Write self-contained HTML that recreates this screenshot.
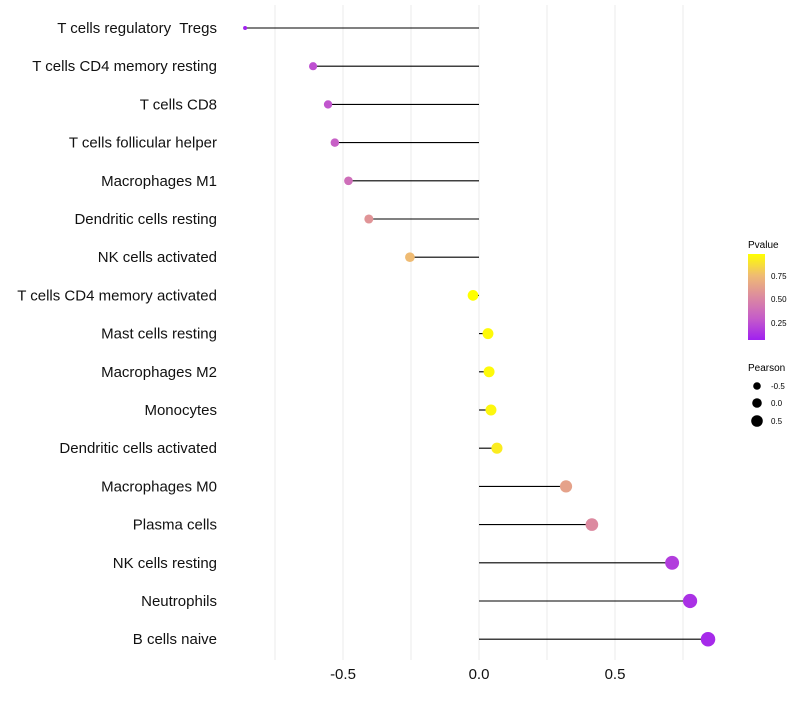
<!DOCTYPE html>
<html><head><meta charset="utf-8"><style>
body{margin:0;background:#fff;font-family:"Liberation Sans",sans-serif}
text{white-space:pre}
</style></head><body>
<svg id="chart" width="800" height="700" xmlns="http://www.w3.org/2000/svg">
<defs><linearGradient id="pg" x1="0" y1="1" x2="0" y2="0">
<stop offset="0" stop-color="#a020f0"/><stop offset="0.25" stop-color="#c55cc9"/><stop offset="0.5" stop-color="#dc8aa0"/><stop offset="0.75" stop-color="#efbb73"/><stop offset="1" stop-color="#ffff00"/></linearGradient></defs>
<g id="grid"></g>
<g id="marks"></g>
<g id="labels"></g>
<g id="xticks"></g>
<g>
<text x="748" y="248" font-size="10">Pvalue</text>
<rect x="748" y="254" width="17" height="86" fill="url(#pg)"/>
<text x="771" y="279" font-size="8">0.75</text>
<text x="771" y="302" font-size="8">0.50</text>
<text x="771" y="326" font-size="8">0.25</text>
</g>
<g>
<text x="748" y="371" font-size="10">Pearson</text>
<circle cx="757" cy="386" r="3.8" fill="#000"/><text x="771" y="389" font-size="8">-0.5</text>
<circle cx="757" cy="403" r="4.8" fill="#000"/><text x="771" y="406" font-size="8">0.0</text>
<circle cx="757" cy="421" r="5.8" fill="#000"/><text x="771" y="424" font-size="8">0.5</text>
</g>
</svg>
<script>
const categories=["T cells regulatory  Tregs","T cells CD4 memory resting","T cells CD8","T cells follicular helper","Macrophages M1","Dendritic cells resting","NK cells activated","T cells CD4 memory activated","Mast cells resting","Macrophages M2","Monocytes","Dendritic cells activated","Macrophages M0","Plasma cells","NK cells resting","Neutrophils","B cells naive"];
const pearson=[-0.86,-0.61,-0.555,-0.53,-0.48,-0.405,-0.254,-0.022,0.033,0.037,0.044,0.066,0.32,0.415,0.71,0.776,0.842];
const pvalue=[0.01,0.2,0.22,0.27,0.35,0.55,0.75,1.0,0.98,0.98,0.97,0.93,0.62,0.5,0.12,0.07,0.04];
const xTicks=[-0.5,0,0.5];
const xTickLabels=["-0.5","0.0","0.5"];
const gridVals=[-0.75,-0.5,-0.25,0,0.25,0.5,0.75];
const NS="http://www.w3.org/2000/svg";
const xs=v=>479+v*272;
const ys=i=>28+i*38.2;
const rs=v=>v<-0.8?2:Math.max(2,5.4+2.2*v);
const stops=[[0,[160,32,240]],[0.25,[197,92,201]],[0.5,[220,138,160]],[0.75,[239,187,115]],[1,[255,255,0]]];
function col(p){for(let i=1;i<stops.length;i++){if(p<=stops[i][0]){const a=stops[i-1],b=stops[i],t=(p-a[0])/(b[0]-a[0]);return "rgb("+a[1].map((c,k)=>Math.round(c+(b[1][k]-c)*t)).join(",")+")";}}return "rgb(255,255,0)";}
function mk(t,a,p){const e=document.createElementNS(NS,t);for(const k in a)e.setAttribute(k,a[k]);p.appendChild(e);return e;}
const grid=document.getElementById('grid'),marks=document.getElementById('marks'),labels=document.getElementById('labels'),xt=document.getElementById('xticks');
gridVals.forEach(v=>{const l=mk('line',{x1:xs(v),x2:xs(v),y1:5,y2:660,stroke:'#ebebeb','stroke-width':1},grid);

});
categories.forEach((c,i)=>{
const y=ys(i);
const ln=mk('line',{x1:xs(0),x2:xs(pearson[i]),y1:y,y2:y,stroke:'#000','stroke-width':1.1},marks);


const pt=mk('circle',{cx:xs(pearson[i]),cy:y,r:rs(pearson[i]),fill:col(pvalue[i])},marks);


const tx=mk('text',{x:217,y:y+5,'font-size':15,'text-anchor':'end',fill:'#111'},labels);
tx.textContent=c;


});
xTicks.forEach((v,i)=>{const t=mk('text',{x:xs(v),y:679,'font-size':15,'text-anchor':'middle',fill:'#111'},xt);
t.textContent=xTickLabels[i];

});
</script>
</body></html>
